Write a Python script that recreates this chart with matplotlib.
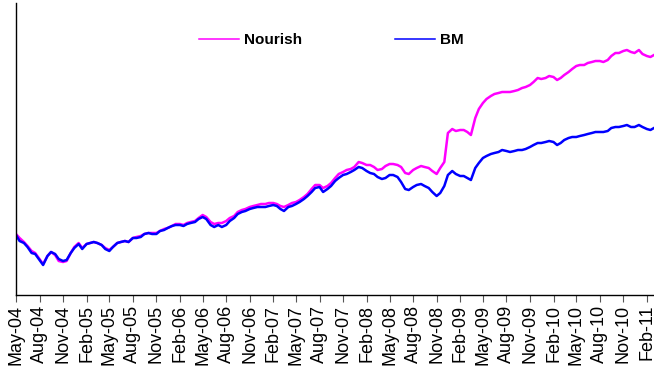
import pandas as pd
import matplotlib.pyplot as plt
import matplotlib.dates as mdates

plt.rcParams["font.family"] = ["Liberation Sans", "DejaVu Sans"]

# semi-monthly observations, May 2004 - Mar 2011 (index, start = 100)
dates = pd.date_range("2004-05-01", periods=165, freq="SMS")

bm = [
    100, 94, 92, 88, 82, 81, 75, 70, 79, 83, 81, 76, 74, 75, 82, 87, 91, 86, 91, 92,
    93, 92, 90, 86, 84, 88, 92,
    93, 94, 93, 97, 97, 98, 101, 102, 101, 101, 104, 105, 107, 109, 110, 110, 109, 111,
    112, 113, 116, 118, 116, 110, 108, 110,
    108, 110, 114, 117, 121, 123, 124, 126, 127, 128, 128, 128, 129, 130, 129, 126, 124,
    128, 129, 131, 133, 136, 139, 143, 147, 148, 143, 146,
    149, 154, 157, 160, 161, 163, 165, 168, 167, 164,
    162, 161, 158, 156, 157, 160, 160, 158, 153, 146,
    145, 148, 150, 151, 149, 147, 143, 139, 142, 149,
    160, 164, 161, 159, 159, 157, 155, 167, 172, 177,
    179, 181, 182, 183, 185, 184, 183, 184, 185, 185,
    186, 188, 190, 192, 192, 193, 194, 193, 190, 192,
    195, 197, 198, 198, 199, 200, 201, 202, 203, 203,
    203, 204, 207, 208, 208, 209, 210, 208, 208, 210,
    208, 206, 205, 207,
]

nourish = [
    101, 97, 93, 89, 84, 82, 76, 71, 79, 83, 80, 74, 73, 74, 82, 88, 92, 87, 91, 92,
    93, 92, 90, 87, 85, 88, 92,
    93, 94, 93, 97, 98, 99, 101, 102, 102, 102, 104, 106, 107, 109, 111, 111, 110, 112,
    113, 114, 117, 120, 118, 113, 111, 112,
    112, 114, 117, 119, 123, 125, 126, 128, 129, 130, 131, 131, 132, 132, 131, 129, 128,
    130, 132, 133, 135, 138, 141, 146, 150, 150, 147, 149,
    152, 157, 161, 163, 165, 166, 168, 173, 172, 170,
    170, 168, 165, 166, 169, 171, 171, 170, 168, 162,
    161, 165, 167, 169, 168, 167, 164, 161, 167, 173,
    202, 206, 204, 205, 205, 203, 200, 217, 226, 232,
    236, 239, 241, 242, 243, 243, 243, 244, 245, 247,
    248, 250, 253, 257, 256, 257, 259, 258, 255, 257,
    260, 263, 266, 269, 270, 270, 272, 273, 274, 274,
    273, 275, 279, 282, 282, 284, 285, 283, 282, 285,
    281, 279, 278, 280,
]

fig = plt.figure(figsize=(6.54, 3.71), dpi=100)
ax = fig.add_axes([16 / 654, 1 - 295 / 371, 638 / 654, 292 / 371])

ax.plot(dates, nourish, color="#ff00ff", lw=1.8, label="Nourish")
ax.plot(dates, bm, color="#0000ff", lw=1.8, label="BM")

ax.set_xlim(dates[0], dates[-1])
ax.set_ylim(40, 332)

ax.xaxis.set_major_locator(mdates.MonthLocator(bymonth=[2, 5, 8, 11]))
ax.xaxis.set_major_formatter(mdates.DateFormatter("%b-%y"))
ax.tick_params(axis="x", direction="out", length=5, width=0.8, color="#555555",
               labelsize=13, labelrotation=90, pad=2)
ax.set_yticks([])

for side in ("top", "right"):
    ax.spines[side].set_visible(False)
for side in ("left", "bottom"):
    ax.spines[side].set_color("black")
    ax.spines[side].set_linewidth(1)

leg = fig.legend(loc="center left", bbox_to_anchor=(199 / 654, 1 - 40 / 371), ncol=2,
                 frameon=False, borderpad=0, borderaxespad=0, handlelength=2.6,
                 handletextpad=0.35, columnspacing=6.1,
                 prop={"weight": "bold", "size": 11})
for line in leg.get_lines():
    line.set_linewidth(1.1)

fig.savefig("out.png", dpi=100)
